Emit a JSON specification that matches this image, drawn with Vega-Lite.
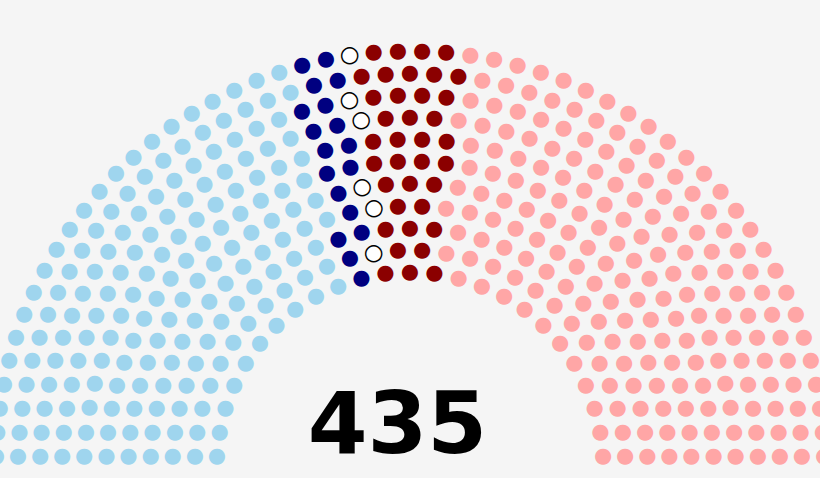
{
  "$schema": "https://vega.github.io/schema/vega-lite/v6.json",
  "width": 820,
  "height": 478,
  "autosize": {"type": "fit", "contains": "padding"},
  "padding": 0,
  "background": "#f5f5f5",
  "config": {"view": {"stroke": null}, "text": {"font": "DejaVu Sans", "fontSize": 21, "align": "center", "baseline": "middle"}},
  "data": {"values": [
    {"row":1,"seat":0,"party":"R"},{"row":1,"seat":1,"party":"R"},{"row":1,"seat":2,"party":"R"},{"row":1,"seat":3,"party":"R"},{"row":1,"seat":4,"party":"R"},{"row":1,"seat":5,"party":"R"},{"row":1,"seat":6,"party":"R"},{"row":1,"seat":7,"party":"R"},{"row":1,"seat":8,"party":"R"},{"row":1,"seat":9,"party":"R"},{"row":1,"seat":10,"party":"R"},{"row":1,"seat":11,"party":"F"},{"row":1,"seat":12,"party":"F"},{"row":1,"seat":13,"party":"F"},{"row":1,"seat":14,"party":"B"},{"row":1,"seat":15,"party":"D"},{"row":1,"seat":16,"party":"D"},{"row":1,"seat":17,"party":"D"},{"row":1,"seat":18,"party":"D"},{"row":1,"seat":19,"party":"D"},{"row":1,"seat":20,"party":"D"},{"row":1,"seat":21,"party":"D"},{"row":1,"seat":22,"party":"D"},{"row":1,"seat":23,"party":"D"},{"row":1,"seat":24,"party":"D"},
    {"row":2,"seat":0,"party":"R"},{"row":2,"seat":1,"party":"R"},{"row":2,"seat":2,"party":"R"},{"row":2,"seat":3,"party":"R"},{"row":2,"seat":4,"party":"R"},{"row":2,"seat":5,"party":"R"},{"row":2,"seat":6,"party":"R"},{"row":2,"seat":7,"party":"R"},{"row":2,"seat":8,"party":"R"},{"row":2,"seat":9,"party":"R"},{"row":2,"seat":10,"party":"R"},{"row":2,"seat":11,"party":"R"},{"row":2,"seat":12,"party":"R"},{"row":2,"seat":13,"party":"F"},{"row":2,"seat":14,"party":"F"},{"row":2,"seat":15,"party":"V"},{"row":2,"seat":16,"party":"B"},{"row":2,"seat":17,"party":"D"},{"row":2,"seat":18,"party":"D"},{"row":2,"seat":19,"party":"D"},{"row":2,"seat":20,"party":"D"},{"row":2,"seat":21,"party":"D"},{"row":2,"seat":22,"party":"D"},{"row":2,"seat":23,"party":"D"},{"row":2,"seat":24,"party":"D"},{"row":2,"seat":25,"party":"D"},{"row":2,"seat":26,"party":"D"},{"row":2,"seat":27,"party":"D"},
    {"row":3,"seat":0,"party":"R"},{"row":3,"seat":1,"party":"R"},{"row":3,"seat":2,"party":"R"},{"row":3,"seat":3,"party":"R"},{"row":3,"seat":4,"party":"R"},{"row":3,"seat":5,"party":"R"},{"row":3,"seat":6,"party":"R"},{"row":3,"seat":7,"party":"R"},{"row":3,"seat":8,"party":"R"},{"row":3,"seat":9,"party":"R"},{"row":3,"seat":10,"party":"R"},{"row":3,"seat":11,"party":"R"},{"row":3,"seat":12,"party":"R"},{"row":3,"seat":13,"party":"R"},{"row":3,"seat":14,"party":"F"},{"row":3,"seat":15,"party":"F"},{"row":3,"seat":16,"party":"F"},{"row":3,"seat":17,"party":"B"},{"row":3,"seat":18,"party":"B"},{"row":3,"seat":19,"party":"D"},{"row":3,"seat":20,"party":"D"},{"row":3,"seat":21,"party":"D"},{"row":3,"seat":22,"party":"D"},{"row":3,"seat":23,"party":"D"},{"row":3,"seat":24,"party":"D"},{"row":3,"seat":25,"party":"D"},{"row":3,"seat":26,"party":"D"},{"row":3,"seat":27,"party":"D"},{"row":3,"seat":28,"party":"D"},{"row":3,"seat":29,"party":"D"},{"row":3,"seat":30,"party":"D"},
    {"row":4,"seat":0,"party":"R"},{"row":4,"seat":1,"party":"R"},{"row":4,"seat":2,"party":"R"},{"row":4,"seat":3,"party":"R"},{"row":4,"seat":4,"party":"R"},{"row":4,"seat":5,"party":"R"},{"row":4,"seat":6,"party":"R"},{"row":4,"seat":7,"party":"R"},{"row":4,"seat":8,"party":"R"},{"row":4,"seat":9,"party":"R"},{"row":4,"seat":10,"party":"R"},{"row":4,"seat":11,"party":"R"},{"row":4,"seat":12,"party":"R"},{"row":4,"seat":13,"party":"R"},{"row":4,"seat":14,"party":"R"},{"row":4,"seat":15,"party":"R"},{"row":4,"seat":16,"party":"F"},{"row":4,"seat":17,"party":"F"},{"row":4,"seat":18,"party":"V"},{"row":4,"seat":19,"party":"B"},{"row":4,"seat":20,"party":"D"},{"row":4,"seat":21,"party":"D"},{"row":4,"seat":22,"party":"D"},{"row":4,"seat":23,"party":"D"},{"row":4,"seat":24,"party":"D"},{"row":4,"seat":25,"party":"D"},{"row":4,"seat":26,"party":"D"},{"row":4,"seat":27,"party":"D"},{"row":4,"seat":28,"party":"D"},{"row":4,"seat":29,"party":"D"},{"row":4,"seat":30,"party":"D"},{"row":4,"seat":31,"party":"D"},{"row":4,"seat":32,"party":"D"},{"row":4,"seat":33,"party":"D"},
    {"row":5,"seat":0,"party":"R"},{"row":5,"seat":1,"party":"R"},{"row":5,"seat":2,"party":"R"},{"row":5,"seat":3,"party":"R"},{"row":5,"seat":4,"party":"R"},{"row":5,"seat":5,"party":"R"},{"row":5,"seat":6,"party":"R"},{"row":5,"seat":7,"party":"R"},{"row":5,"seat":8,"party":"R"},{"row":5,"seat":9,"party":"R"},{"row":5,"seat":10,"party":"R"},{"row":5,"seat":11,"party":"R"},{"row":5,"seat":12,"party":"R"},{"row":5,"seat":13,"party":"R"},{"row":5,"seat":14,"party":"R"},{"row":5,"seat":15,"party":"R"},{"row":5,"seat":16,"party":"R"},{"row":5,"seat":17,"party":"F"},{"row":5,"seat":18,"party":"F"},{"row":5,"seat":19,"party":"F"},{"row":5,"seat":20,"party":"V"},{"row":5,"seat":21,"party":"B"},{"row":5,"seat":22,"party":"D"},{"row":5,"seat":23,"party":"D"},{"row":5,"seat":24,"party":"D"},{"row":5,"seat":25,"party":"D"},{"row":5,"seat":26,"party":"D"},{"row":5,"seat":27,"party":"D"},{"row":5,"seat":28,"party":"D"},{"row":5,"seat":29,"party":"D"},{"row":5,"seat":30,"party":"D"},{"row":5,"seat":31,"party":"D"},{"row":5,"seat":32,"party":"D"},{"row":5,"seat":33,"party":"D"},{"row":5,"seat":34,"party":"D"},{"row":5,"seat":35,"party":"D"},{"row":5,"seat":36,"party":"D"},
    {"row":6,"seat":0,"party":"R"},{"row":6,"seat":1,"party":"R"},{"row":6,"seat":2,"party":"R"},{"row":6,"seat":3,"party":"R"},{"row":6,"seat":4,"party":"R"},{"row":6,"seat":5,"party":"R"},{"row":6,"seat":6,"party":"R"},{"row":6,"seat":7,"party":"R"},{"row":6,"seat":8,"party":"R"},{"row":6,"seat":9,"party":"R"},{"row":6,"seat":10,"party":"R"},{"row":6,"seat":11,"party":"R"},{"row":6,"seat":12,"party":"R"},{"row":6,"seat":13,"party":"R"},{"row":6,"seat":14,"party":"R"},{"row":6,"seat":15,"party":"R"},{"row":6,"seat":16,"party":"R"},{"row":6,"seat":17,"party":"R"},{"row":6,"seat":18,"party":"F"},{"row":6,"seat":19,"party":"F"},{"row":6,"seat":20,"party":"F"},{"row":6,"seat":21,"party":"F"},{"row":6,"seat":22,"party":"B"},{"row":6,"seat":23,"party":"B"},{"row":6,"seat":24,"party":"D"},{"row":6,"seat":25,"party":"D"},{"row":6,"seat":26,"party":"D"},{"row":6,"seat":27,"party":"D"},{"row":6,"seat":28,"party":"D"},{"row":6,"seat":29,"party":"D"},{"row":6,"seat":30,"party":"D"},{"row":6,"seat":31,"party":"D"},{"row":6,"seat":32,"party":"D"},{"row":6,"seat":33,"party":"D"},{"row":6,"seat":34,"party":"D"},{"row":6,"seat":35,"party":"D"},{"row":6,"seat":36,"party":"D"},{"row":6,"seat":37,"party":"D"},{"row":6,"seat":38,"party":"D"},{"row":6,"seat":39,"party":"D"},
    {"row":7,"seat":0,"party":"R"},{"row":7,"seat":1,"party":"R"},{"row":7,"seat":2,"party":"R"},{"row":7,"seat":3,"party":"R"},{"row":7,"seat":4,"party":"R"},{"row":7,"seat":5,"party":"R"},{"row":7,"seat":6,"party":"R"},{"row":7,"seat":7,"party":"R"},{"row":7,"seat":8,"party":"R"},{"row":7,"seat":9,"party":"R"},{"row":7,"seat":10,"party":"R"},{"row":7,"seat":11,"party":"R"},{"row":7,"seat":12,"party":"R"},{"row":7,"seat":13,"party":"R"},{"row":7,"seat":14,"party":"R"},{"row":7,"seat":15,"party":"R"},{"row":7,"seat":16,"party":"R"},{"row":7,"seat":17,"party":"R"},{"row":7,"seat":18,"party":"R"},{"row":7,"seat":19,"party":"F"},{"row":7,"seat":20,"party":"F"},{"row":7,"seat":21,"party":"F"},{"row":7,"seat":22,"party":"F"},{"row":7,"seat":23,"party":"B"},{"row":7,"seat":24,"party":"B"},{"row":7,"seat":25,"party":"D"},{"row":7,"seat":26,"party":"D"},{"row":7,"seat":27,"party":"D"},{"row":7,"seat":28,"party":"D"},{"row":7,"seat":29,"party":"D"},{"row":7,"seat":30,"party":"D"},{"row":7,"seat":31,"party":"D"},{"row":7,"seat":32,"party":"D"},{"row":7,"seat":33,"party":"D"},{"row":7,"seat":34,"party":"D"},{"row":7,"seat":35,"party":"D"},{"row":7,"seat":36,"party":"D"},{"row":7,"seat":37,"party":"D"},{"row":7,"seat":38,"party":"D"},{"row":7,"seat":39,"party":"D"},{"row":7,"seat":40,"party":"D"},{"row":7,"seat":41,"party":"D"},
    {"row":8,"seat":0,"party":"R"},{"row":8,"seat":1,"party":"R"},{"row":8,"seat":2,"party":"R"},{"row":8,"seat":3,"party":"R"},{"row":8,"seat":4,"party":"R"},{"row":8,"seat":5,"party":"R"},{"row":8,"seat":6,"party":"R"},{"row":8,"seat":7,"party":"R"},{"row":8,"seat":8,"party":"R"},{"row":8,"seat":9,"party":"R"},{"row":8,"seat":10,"party":"R"},{"row":8,"seat":11,"party":"R"},{"row":8,"seat":12,"party":"R"},{"row":8,"seat":13,"party":"R"},{"row":8,"seat":14,"party":"R"},{"row":8,"seat":15,"party":"R"},{"row":8,"seat":16,"party":"R"},{"row":8,"seat":17,"party":"R"},{"row":8,"seat":18,"party":"R"},{"row":8,"seat":19,"party":"R"},{"row":8,"seat":20,"party":"R"},{"row":8,"seat":21,"party":"F"},{"row":8,"seat":22,"party":"F"},{"row":8,"seat":23,"party":"F"},{"row":8,"seat":24,"party":"V"},{"row":8,"seat":25,"party":"B"},{"row":8,"seat":26,"party":"B"},{"row":8,"seat":27,"party":"D"},{"row":8,"seat":28,"party":"D"},{"row":8,"seat":29,"party":"D"},{"row":8,"seat":30,"party":"D"},{"row":8,"seat":31,"party":"D"},{"row":8,"seat":32,"party":"D"},{"row":8,"seat":33,"party":"D"},{"row":8,"seat":34,"party":"D"},{"row":8,"seat":35,"party":"D"},{"row":8,"seat":36,"party":"D"},{"row":8,"seat":37,"party":"D"},{"row":8,"seat":38,"party":"D"},{"row":8,"seat":39,"party":"D"},{"row":8,"seat":40,"party":"D"},{"row":8,"seat":41,"party":"D"},{"row":8,"seat":42,"party":"D"},{"row":8,"seat":43,"party":"D"},{"row":8,"seat":44,"party":"D"},
    {"row":9,"seat":0,"party":"R"},{"row":9,"seat":1,"party":"R"},{"row":9,"seat":2,"party":"R"},{"row":9,"seat":3,"party":"R"},{"row":9,"seat":4,"party":"R"},{"row":9,"seat":5,"party":"R"},{"row":9,"seat":6,"party":"R"},{"row":9,"seat":7,"party":"R"},{"row":9,"seat":8,"party":"R"},{"row":9,"seat":9,"party":"R"},{"row":9,"seat":10,"party":"R"},{"row":9,"seat":11,"party":"R"},{"row":9,"seat":12,"party":"R"},{"row":9,"seat":13,"party":"R"},{"row":9,"seat":14,"party":"R"},{"row":9,"seat":15,"party":"R"},{"row":9,"seat":16,"party":"R"},{"row":9,"seat":17,"party":"R"},{"row":9,"seat":18,"party":"R"},{"row":9,"seat":19,"party":"R"},{"row":9,"seat":20,"party":"R"},{"row":9,"seat":21,"party":"R"},{"row":9,"seat":22,"party":"F"},{"row":9,"seat":23,"party":"F"},{"row":9,"seat":24,"party":"F"},{"row":9,"seat":25,"party":"F"},{"row":9,"seat":26,"party":"V"},{"row":9,"seat":27,"party":"B"},{"row":9,"seat":28,"party":"B"},{"row":9,"seat":29,"party":"D"},{"row":9,"seat":30,"party":"D"},{"row":9,"seat":31,"party":"D"},{"row":9,"seat":32,"party":"D"},{"row":9,"seat":33,"party":"D"},{"row":9,"seat":34,"party":"D"},{"row":9,"seat":35,"party":"D"},{"row":9,"seat":36,"party":"D"},{"row":9,"seat":37,"party":"D"},{"row":9,"seat":38,"party":"D"},{"row":9,"seat":39,"party":"D"},{"row":9,"seat":40,"party":"D"},{"row":9,"seat":41,"party":"D"},{"row":9,"seat":42,"party":"D"},{"row":9,"seat":43,"party":"D"},{"row":9,"seat":44,"party":"D"},{"row":9,"seat":45,"party":"D"},{"row":9,"seat":46,"party":"D"},{"row":9,"seat":47,"party":"D"},
    {"row":10,"seat":0,"party":"R"},{"row":10,"seat":1,"party":"R"},{"row":10,"seat":2,"party":"R"},{"row":10,"seat":3,"party":"R"},{"row":10,"seat":4,"party":"R"},{"row":10,"seat":5,"party":"R"},{"row":10,"seat":6,"party":"R"},{"row":10,"seat":7,"party":"R"},{"row":10,"seat":8,"party":"R"},{"row":10,"seat":9,"party":"R"},{"row":10,"seat":10,"party":"R"},{"row":10,"seat":11,"party":"R"},{"row":10,"seat":12,"party":"R"},{"row":10,"seat":13,"party":"R"},{"row":10,"seat":14,"party":"R"},{"row":10,"seat":15,"party":"R"},{"row":10,"seat":16,"party":"R"},{"row":10,"seat":17,"party":"R"},{"row":10,"seat":18,"party":"R"},{"row":10,"seat":19,"party":"R"},{"row":10,"seat":20,"party":"R"},{"row":10,"seat":21,"party":"R"},{"row":10,"seat":22,"party":"R"},{"row":10,"seat":23,"party":"F"},{"row":10,"seat":24,"party":"F"},{"row":10,"seat":25,"party":"F"},{"row":10,"seat":26,"party":"F"},{"row":10,"seat":27,"party":"F"},{"row":10,"seat":28,"party":"B"},{"row":10,"seat":29,"party":"B"},{"row":10,"seat":30,"party":"D"},{"row":10,"seat":31,"party":"D"},{"row":10,"seat":32,"party":"D"},{"row":10,"seat":33,"party":"D"},{"row":10,"seat":34,"party":"D"},{"row":10,"seat":35,"party":"D"},{"row":10,"seat":36,"party":"D"},{"row":10,"seat":37,"party":"D"},{"row":10,"seat":38,"party":"D"},{"row":10,"seat":39,"party":"D"},{"row":10,"seat":40,"party":"D"},{"row":10,"seat":41,"party":"D"},{"row":10,"seat":42,"party":"D"},{"row":10,"seat":43,"party":"D"},{"row":10,"seat":44,"party":"D"},{"row":10,"seat":45,"party":"D"},{"row":10,"seat":46,"party":"D"},{"row":10,"seat":47,"party":"D"},{"row":10,"seat":48,"party":"D"},{"row":10,"seat":49,"party":"D"},{"row":10,"seat":50,"party":"D"},
    {"row":11,"seat":0,"party":"R"},{"row":11,"seat":1,"party":"R"},{"row":11,"seat":2,"party":"R"},{"row":11,"seat":3,"party":"R"},{"row":11,"seat":4,"party":"R"},{"row":11,"seat":5,"party":"R"},{"row":11,"seat":6,"party":"R"},{"row":11,"seat":7,"party":"R"},{"row":11,"seat":8,"party":"R"},{"row":11,"seat":9,"party":"R"},{"row":11,"seat":10,"party":"R"},{"row":11,"seat":11,"party":"R"},{"row":11,"seat":12,"party":"R"},{"row":11,"seat":13,"party":"R"},{"row":11,"seat":14,"party":"R"},{"row":11,"seat":15,"party":"R"},{"row":11,"seat":16,"party":"R"},{"row":11,"seat":17,"party":"R"},{"row":11,"seat":18,"party":"R"},{"row":11,"seat":19,"party":"R"},{"row":11,"seat":20,"party":"R"},{"row":11,"seat":21,"party":"R"},{"row":11,"seat":22,"party":"R"},{"row":11,"seat":23,"party":"R"},{"row":11,"seat":24,"party":"R"},{"row":11,"seat":25,"party":"F"},{"row":11,"seat":26,"party":"F"},{"row":11,"seat":27,"party":"F"},{"row":11,"seat":28,"party":"F"},{"row":11,"seat":29,"party":"V"},{"row":11,"seat":30,"party":"B"},{"row":11,"seat":31,"party":"B"},{"row":11,"seat":32,"party":"D"},{"row":11,"seat":33,"party":"D"},{"row":11,"seat":34,"party":"D"},{"row":11,"seat":35,"party":"D"},{"row":11,"seat":36,"party":"D"},{"row":11,"seat":37,"party":"D"},{"row":11,"seat":38,"party":"D"},{"row":11,"seat":39,"party":"D"},{"row":11,"seat":40,"party":"D"},{"row":11,"seat":41,"party":"D"},{"row":11,"seat":42,"party":"D"},{"row":11,"seat":43,"party":"D"},{"row":11,"seat":44,"party":"D"},{"row":11,"seat":45,"party":"D"},{"row":11,"seat":46,"party":"D"},{"row":11,"seat":47,"party":"D"},{"row":11,"seat":48,"party":"D"},{"row":11,"seat":49,"party":"D"},{"row":11,"seat":50,"party":"D"},{"row":11,"seat":51,"party":"D"},{"row":11,"seat":52,"party":"D"},{"row":11,"seat":53,"party":"D"}
  ]},
  "layer": [
    {
      "encoding": {
        "x": {"datum": 0, "type": "quantitative", "scale": {"domain": [-410, 410]}, "axis": null},
        "y": {"datum": 0, "type": "quantitative", "scale": {"domain": [-13, 465]}, "axis": null},
        "radius": {"field": "row", "type": "quantitative", "scale": {"type": "linear", "zero": false, "domain": [1, 11], "range": [193.3, 414.2]}},
        "color": {"field": "party", "type": "nominal", "legend": null, "scale": {"domain": ["D", "B", "V", "F", "R"], "range": ["#9fd5ee", "#000080", "#ffffff", "#8b0000", "#ffa6a6"]}},
        "stroke": {"value": "#000000"},
        "strokeWidth": {"condition": {"test": "datum.party === 'V'", "value": 1.4}, "value": 0}
      },
      "layer": [
        {"transform": [{"filter": {"field": "row", "equal": 1}}], "mark": {"type": "text", "text": "●"}, "encoding": {"theta": {"field": "seat", "type": "quantitative", "stack": null, "scale": {"domain": [0, 24], "range": [1.52509, -1.52509]}}}},
        {"transform": [{"filter": {"field": "row", "equal": 2}}], "mark": {"type": "text", "text": "●"}, "encoding": {"theta": {"field": "seat", "type": "quantitative", "stack": null, "scale": {"domain": [0, 27], "range": [1.52978, -1.52978]}}}},
        {"transform": [{"filter": {"field": "row", "equal": 3}}], "mark": {"type": "text", "text": "●"}, "encoding": {"theta": {"field": "seat", "type": "quantitative", "stack": null, "scale": {"domain": [0, 30], "range": [1.53359, -1.53359]}}}},
        {"transform": [{"filter": {"field": "row", "equal": 4}}], "mark": {"type": "text", "text": "●"}, "encoding": {"theta": {"field": "seat", "type": "quantitative", "stack": null, "scale": {"domain": [0, 33], "range": [1.53676, -1.53676]}}}},
        {"transform": [{"filter": {"field": "row", "equal": 5}}], "mark": {"type": "text", "text": "●"}, "encoding": {"theta": {"field": "seat", "type": "quantitative", "stack": null, "scale": {"domain": [0, 36], "range": [1.53943, -1.53943]}}}},
        {"transform": [{"filter": {"field": "row", "equal": 6}}], "mark": {"type": "text", "text": "●"}, "encoding": {"theta": {"field": "seat", "type": "quantitative", "stack": null, "scale": {"domain": [0, 39], "range": [1.54171, -1.54171]}}}},
        {"transform": [{"filter": {"field": "row", "equal": 7}}], "mark": {"type": "text", "text": "●"}, "encoding": {"theta": {"field": "seat", "type": "quantitative", "stack": null, "scale": {"domain": [0, 41], "range": [1.54368, -1.54368]}}}},
        {"transform": [{"filter": {"field": "row", "equal": 8}}], "mark": {"type": "text", "text": "●"}, "encoding": {"theta": {"field": "seat", "type": "quantitative", "stack": null, "scale": {"domain": [0, 44], "range": [1.5454, -1.5454]}}}},
        {"transform": [{"filter": {"field": "row", "equal": 9}}], "mark": {"type": "text", "text": "●"}, "encoding": {"theta": {"field": "seat", "type": "quantitative", "stack": null, "scale": {"domain": [0, 47], "range": [1.54692, -1.54692]}}}},
        {"transform": [{"filter": {"field": "row", "equal": 10}}], "mark": {"type": "text", "text": "●"}, "encoding": {"theta": {"field": "seat", "type": "quantitative", "stack": null, "scale": {"domain": [0, 50], "range": [1.54827, -1.54827]}}}},
        {"transform": [{"filter": {"field": "row", "equal": 11}}], "mark": {"type": "text", "text": "●"}, "encoding": {"theta": {"field": "seat", "type": "quantitative", "stack": null, "scale": {"domain": [0, 53], "range": [1.54947, -1.54947]}}}}
      ],
      "resolve": {"scale": {"theta": "independent"}}
    },
    {
      "mark": {"type": "text", "font": "DejaVu Sans", "fontWeight": "bold", "fontSize": 86, "align": "center", "baseline": "alphabetic", "color": "#000000"},
      "encoding": {
        "x": {"datum": -13, "type": "quantitative", "scale": {"domain": [-410, 410]}, "axis": null},
        "y": {"datum": 12, "type": "quantitative", "scale": {"domain": [-13, 465]}, "axis": null},
        "text": {"aggregate": "count", "type": "quantitative"}
      }
    }
  ],
  "resolve": {"scale": {"theta": "independent"}}
}
